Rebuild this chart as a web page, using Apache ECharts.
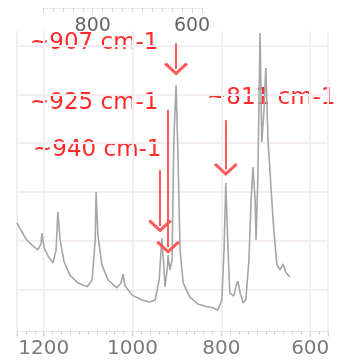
<!DOCTYPE html>
<html>
<head>
<meta charset="utf-8">
<script src="https://cdn.jsdelivr.net/npm/echarts@6/dist/echarts.min.js"></script>
<style>
  html, body { margin: 0; padding: 0; background: #fff; }
  #chart { width: 344px; height: 362px; }
</style>
</head>
<body>
<div id="chart"></div>
<script>
// spectrum (wavenumber in cm-1, intensity in grid units)
const wavenumber = [
  1260, 1249, 1238, 1224, 1213, 1206, 1204, 1199, 1190, 1179,
  1172, 1168, 1163, 1154, 1141, 1123, 1102, 1091, 1084, 1082,
  1078, 1069, 1055, 1035, 1026, 1021, 1017, 1001, 979, 961,
  949, 940, 934, 929, 927, 922, 920, 916, 911, 907,
  902, 898, 893, 886, 871, 853, 832, 819, 808, 799,
  794, 790, 785, 781, 772, 767, 763, 758, 751, 745,
  738, 733, 729, 724, 722, 718, 713, 709, 704, 700,
  695, 688, 682, 675, 668, 661, 655, 646
];
const intensity = [
  2.36, 2.18, 2.01, 1.89, 1.81, 1.93, 2.15, 1.85, 1.68, 1.54,
  1.81, 2.59, 2.01, 1.56, 1.29, 1.13, 1.05, 1.19, 2.01, 3.00,
  2.11, 1.50, 1.19, 1.03, 1.13, 1.31, 1.07, 0.88, 0.78, 0.74,
  0.78, 1.19, 2.05, 1.40, 1.05, 1.40, 1.70, 1.40, 1.60, 4.06,
  5.19, 3.86, 1.81, 1.13, 0.84, 0.70, 0.64, 0.62, 0.57, 0.78,
  1.81, 3.18, 1.81, 0.92, 0.86, 1.07, 1.17, 0.94, 0.72, 0.78,
  1.60, 2.83, 3.51, 2.83, 2.01, 3.24, 6.26, 4.02, 4.68, 5.54,
  4.06, 3.04, 2.22, 1.50, 1.40, 1.52, 1.35, 1.25
];

// tick labels of the two axes
const bottomTicks = [600, 800, 1000, 1200];
const topTicks = [600, 800];

// peak annotations: text, arrow x, arrow start and end (grid units)
const peakText = ["~907 cm-1", "~925 cm-1", "~940 cm-1", "~811 cm-1"];
const arrowX = [902, 920, 938, 790];
const arrowFrom = [6.05, 4.68, 3.45, 4.47];
const arrowTo = [5.52, 1.86, 2.30, 3.46];

const RED = "#ff2b2b";
const GRID_LINE = "#f4edf4";
const FONT = "DejaVu Sans";

const chart = echarts.init(document.getElementById("chart"));

const spectrum = wavenumber.map((w, i) => [w, intensity[i]]);
const arrows = arrowX.map((x, i) => [
  { coord: [x, arrowFrom[i]] },
  { coord: [x, arrowTo[i]] },
]);

const option = {
  animation: false,
  grid: [
    { left: 17, right: 16, top: 31, bottom: 24 },
    { left: 43, width: 159, top: 0, height: 8 },
  ],
  xAxis: [
    {
      // labels, split lines
      gridIndex: 0,
      type: "value",
      position: "bottom",
      offset: -7,
      inverse: true,
      min: 560,
      max: 1260,
      splitNumber: 3,
      axisLine: { show: true, lineStyle: { color: "#e8e8e8" } },
      axisTick: { show: true, length: 5, lineStyle: { color: "#cccccc" } },
      axisLabel: {
        margin: 8,
        fontSize: 20,
        fontFamily: FONT,
        color: "#7a7a7a",
        formatter: (v) => (bottomTicks.includes(v) ? String(v) : ""),
      },
      splitLine: { show: true, lineStyle: { color: GRID_LINE, width: 2 } },
    },
    {
      // small ticks every 20
      gridIndex: 0,
      type: "value",
      position: "bottom",
      offset: -7,
      inverse: true,
      min: 560,
      max: 1260,
      interval: 20,
      axisLine: { show: false },
      axisTick: { show: true, length: 4, lineStyle: { color: "#d8d8d8" } },
      axisLabel: { show: false },
      splitLine: { show: false },
    },
    {
      gridIndex: 1,
      type: "value",
      position: "bottom",
      inverse: true,
      min: 580,
      max: 900,
      splitNumber: 2,
      axisLine: { show: true, lineStyle: { color: "#e8e8e8" } },
      axisTick: { show: true, length: 5, lineStyle: { color: "#cccccc" } },
      axisLabel: {
        margin: 9,
        fontSize: 19,
        fontFamily: FONT,
        color: "#666",
        formatter: (v) => (topTicks.includes(v) ? String(v) : ""),
      },
      splitLine: { show: false },
    },
    {
      gridIndex: 1,
      type: "value",
      position: "bottom",
      inverse: true,
      min: 580,
      max: 900,
      interval: 20,
      axisLine: { show: false },
      axisTick: { show: true, length: 4, lineStyle: { color: "#d8d8d8" } },
      axisLabel: { show: false },
      splitLine: { show: false },
    },
  ],
  yAxis: [
    {
      gridIndex: 0,
      type: "value",
      min: 0,
      max: 6.3,
      interval: 1,
      axisLine: { show: false },
      axisTick: { show: false },
      axisLabel: { show: false },
      splitLine: {
        show: true,
        showMinLine: false,
        showMaxLine: false,
        lineStyle: { color: GRID_LINE, width: 2 },
      },
    },
    { gridIndex: 1, type: "value", show: false },
  ],
  series: [
    {
      type: "line",
      xAxisIndex: 0,
      yAxisIndex: 0,
      data: spectrum,
      showSymbol: false,
      smooth: false,
      lineStyle: { color: "#a6a6a6", width: 1.6 },
      emphasis: { disabled: true },
      markLine: {
        silent: true,
        symbol: ["none", "path://M10,0L20,11L18,13L10,4L2,13L0,11Z"],
        symbolSize: [24, 13],
        label: { show: false },
        lineStyle: { color: "#ff5a5a", width: 2, type: "solid" },
        itemStyle: { color: "#ff2a2a" },
        emphasis: { disabled: true },
        data: arrows,
      },
    },
  ],
  graphic: [
    { type: "text", left: 30, top: 32, style: { text: peakText[0], fill: RED, font: "23px " + FONT } },
    { type: "text", left: 30, top: 92, style: { text: peakText[1], fill: RED, font: "23px " + FONT } },
    { type: "text", left: 33, top: 139, style: { text: peakText[2], fill: RED, font: "23px " + FONT } },
    { type: "text", left: 207, top: 87, style: { text: peakText[3], fill: RED, font: "23px " + FONT } },
  ],
};

chart.setOption(option);
window.addEventListener("resize", () => chart.resize());
</script>
</body>
</html>
